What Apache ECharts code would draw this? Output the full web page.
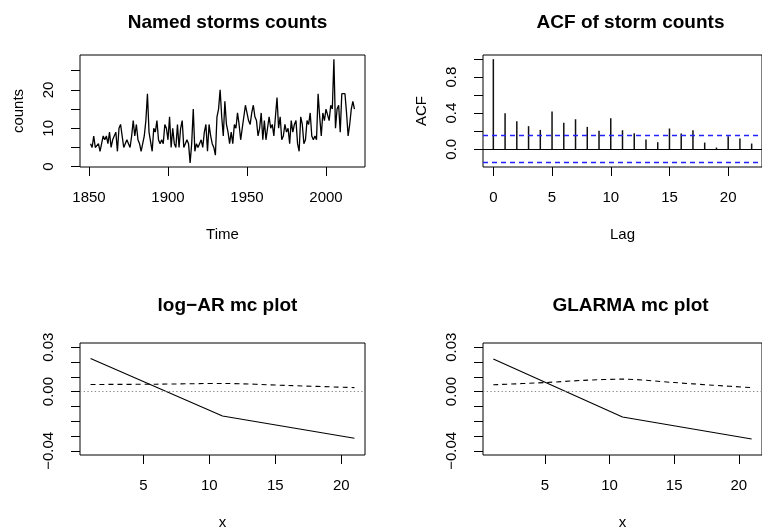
<!DOCTYPE html>
<html><head><meta charset="utf-8">
<script src="https://cdn.jsdelivr.net/npm/echarts@6/dist/echarts.min.js"></script>
<style>html,body{margin:0;padding:0;background:#fff}#c{width:762px;height:531px}</style>
</head><body><div id="c"></div>
<script>
// ---- data ----
const startYear = 1851;
const stormCounts = [
  6,5,8,5,5,6,4,6,8,7,
  8,6,9,5,7,7,9,4,10,11,
  8,5,5,7,6,5,8,12,8,11,
  7,6,4,4,8,12,19,9,9,4,
  10,9,12,7,6,7,6,11,10,7,
  13,5,10,6,5,11,5,10,12,5,
  6,7,6,1,6,15,4,6,5,5,
  7,5,9,11,4,11,8,6,5,3,
  13,15,20,13,8,17,11,9,6,9,
  6,11,10,14,11,7,10,10,16,16,
  12,11,14,16,13,12,8,10,14,7,
  12,7,10,13,10,11,8,8,18,10,
  13,7,8,11,9,10,6,12,9,11,
  12,6,4,13,11,6,7,12,11,14,
  8,7,8,7,19,13,8,14,12,15,
  15,12,16,15,28,10,15,16,9,19,
  19,19,14,8,11,15,17,15
];
const acfLags = [0,1,2,3,4,5,6,7,8,9,10,11,12,13,14,15,16,17,18,19,20,21,22];
const acfValues = [1.0,0.40,0.31,0.256,0.215,0.419,0.293,0.333,0.248,0.204,0.344,0.211,0.178,0.107,0.078,0.23,0.174,0.211,0.074,0.019,0.144,0.119,0.063];
const acfBound = 0.1512;

const mcSolidX = [1, 11, 21];
const logARSolid = [0.0224, -0.0165, -0.0315];
const logARDashedX = [1, 6, 11, 16, 21];
const logARDashed = [0.0048, 0.0050, 0.0055, 0.0041, 0.0027];
const glarmaSolid = [0.0220, -0.0172, -0.0320];
const glarmaDashedX = [1, 5, 8, 11, 15, 18, 21];
const glarmaDashed = [0.0046, 0.0061, 0.0076, 0.0084, 0.0061, 0.0043, 0.0027];

const timeTicks = [1850, 1900, 1950, 2000];
const countTicks = [0, 5, 10, 15, 20, 25];
const countLabels = [0, 10, 20];
const lagTicks = [0, 5, 10, 15, 20];
const acfTicks = [0, 0.2, 0.4, 0.6, 0.8, 1.0];
const acfLabels = [0, 0.4, 0.8];
const mcXTicks = [5, 10, 15, 20];
const mcYTicks = [-0.04, -0.03, -0.02, -0.01, 0, 0.01, 0.02, 0.03];
const mcYLabels = [-0.04, 0, 0.03];

const titles = ['Named storms counts', 'ACF of storm counts', 'log\u2212AR mc plot', 'GLARMA mc plot'];

// ---- chart ----
const FF = '"Liberation Sans", Arial, Helvetica, sans-serif';
const FS = 15;
const grids = [
  {left: 80, top: 55, width: 285, height: 112},
  {left: 483, top: 55, width: 285, height: 112},
  {left: 80, top: 343, width: 285, height: 112},
  {left: 483, top: 343, width: 285, height: 112}
].map(g => Object.assign(g, {show: true, borderColor: '#000', borderWidth: 1, backgroundColor: 'transparent', containLabel: false}));

function minusFmt(d) { return v => { const s = (+v).toFixed(d); return s.replace('-', '\u2212'); }; }

function xAx(gi, min, max, ticks, labels, name, fmt) {
  return {
    type: 'value', gridIndex: gi, min, max, name, position: 'bottom',
    nameLocation: 'middle', nameGap: 60,
    nameTextStyle: {fontSize: FS, color: '#000', fontFamily: FF},
    axisLine: {show: false, onZero: false}, splitLine: {show: false},
    axisTick: {show: true, length: 9, customValues: ticks, lineStyle: {color: '#000', width: 1}},
    axisLabel: {show: true, customValues: labels, margin: 23, fontSize: FS, color: '#000', fontFamily: FF, formatter: fmt}
  };
}
function yAx(gi, min, max, ticks, labels, name, fmt) {
  return {
    type: 'value', gridIndex: gi, min, max, name, position: 'left',
    nameLocation: 'middle', nameGap: 54, nameRotate: 90,
    nameTextStyle: {fontSize: FS, color: '#000', fontFamily: FF},
    axisLine: {show: false, onZero: false}, splitLine: {show: false},
    axisTick: {show: true, length: 9, customValues: ticks, lineStyle: {color: '#000', width: 1}},
    axisLabel: {show: true, customValues: labels, rotate: 90, margin: 24, fontSize: FS, color: '#000', fontFamily: FF, formatter: fmt}
  };
}

const tsData = stormCounts.map((v, i) => [startYear + i, v]);
const nYears = stormCounts.length;
const yrMin = startYear, yrMax = startYear + nYears - 1;
const yrPad = (yrMax - yrMin) * 0.04;
const cMin = Math.min(...stormCounts), cMax = Math.max(...stormCounts);
const cPad = (cMax - cMin) * 0.04;
const lagMax = acfLags[acfLags.length - 1];
const acfLo = -acfBound, acfHi = 1, acfPad = (acfHi - acfLo) * 0.04;

const zeroLine = (color, type, width) => ({
  symbol: 'none', silent: true, label: {show: false},
  lineStyle: {color, type, width},
  emphasis: {disabled: true},
  data: [{yAxis: 0}]
});

const option = {
  animation: false,
  backgroundColor: '#fff',
  title: titles.map((t, i) => ({
    text: t,
    left: grids[i].left + grids[i].width / 2,
    top: i < 2 ? 8 : 291,
    textAlign: 'center',
    textStyle: {fontSize: 19, fontWeight: 'bold', color: '#000', fontFamily: FF}
  })),
  grid: grids,
  xAxis: [
    xAx(0, yrMin - yrPad, yrMax + yrPad, timeTicks, timeTicks, 'Time', v => String(v)),
    xAx(1, -lagMax * 0.04, lagMax * 1.04, lagTicks, lagTicks, 'Lag', v => String(v)),
    xAx(2, 0.2, 21.8, mcXTicks, mcXTicks, 'x', v => String(v)),
    xAx(3, 0.2, 21.8, mcXTicks, mcXTicks, 'x', v => String(v))
  ],
  yAxis: [
    yAx(0, cMin - cPad, cMax + cPad, countTicks, countLabels, 'counts', v => String(v)),
    yAx(1, acfLo - acfPad, acfHi + acfPad, acfTicks, acfLabels, 'ACF', minusFmt(1)),
    yAx(2, -0.0428, 0.0328, mcYTicks, mcYLabels, '', minusFmt(2)),
    yAx(3, -0.0428, 0.0328, mcYTicks, mcYLabels, '', minusFmt(2))
  ],
  series: [
    {type: 'line', xAxisIndex: 0, yAxisIndex: 0, data: tsData, symbol: 'none',
     lineStyle: {color: '#000', width: 1.3}},
    {type: 'bar', xAxisIndex: 1, yAxisIndex: 1, data: acfLags.map((l, i) => [l, acfValues[i]]),
     barWidth: 1.5, itemStyle: {color: '#111'},
     markLine: {
       symbol: 'none', silent: true, label: {show: false},
       data: [
         {yAxis: 0, lineStyle: {color: '#000', type: 'solid', width: 1}},
         {yAxis: acfBound, lineStyle: {color: '#2222FF', type: [5, 4], width: 1.3}},
         {yAxis: -acfBound, lineStyle: {color: '#2222FF', type: [5, 4], width: 1.3}}
       ]
     }},
    {type: 'line', xAxisIndex: 2, yAxisIndex: 2, data: mcSolidX.map((x, i) => [x, logARSolid[i]]),
     symbol: 'none', lineStyle: {color: '#000', width: 1.1},
     markLine: zeroLine('#888', [1.3, 2.4], 1.2)},
    {type: 'line', xAxisIndex: 2, yAxisIndex: 2, data: logARDashedX.map((x, i) => [x, logARDashed[i]]),
     symbol: 'none', smooth: 0.3, lineStyle: {color: '#000', width: 1.1, type: [5, 4]}},
    {type: 'line', xAxisIndex: 3, yAxisIndex: 3, data: mcSolidX.map((x, i) => [x, glarmaSolid[i]]),
     symbol: 'none', lineStyle: {color: '#000', width: 1.1},
     markLine: zeroLine('#888', [1.3, 2.4], 1.2)},
    {type: 'line', xAxisIndex: 3, yAxisIndex: 3, data: glarmaDashedX.map((x, i) => [x, glarmaDashed[i]]),
     symbol: 'none', smooth: 0.3, lineStyle: {color: '#000', width: 1.1, type: [5, 4]}}
  ]
};
const chart = echarts.init(document.getElementById('c'), null, {renderer: 'canvas'});
chart.setOption(option);
</script>
</body></html>
